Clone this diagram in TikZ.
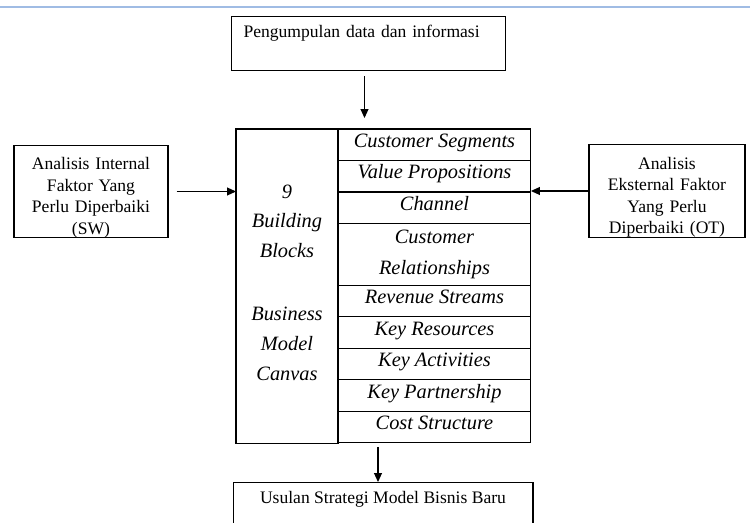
\documentclass[tikz,border=0pt]{standalone}
\usepackage{fontspec}
\setmainfont{Liberation Serif}
\usetikzlibrary{positioning,arrows.meta}
\definecolor{PageLine}{RGB}{160,188,228}

\begin{document}
\begin{tikzpicture}[x=0.02cm,y=-0.02cm,
  kotak/.style={draw,line width=0.6pt,inner sep=0pt,font=\fontsize{10}{12.2}\selectfont},
  sel/.style={kotak,outer sep=0pt,minimum width=3.86cm,minimum height=0.63cm,
    text height=0.37cm,text depth=0.26cm,font=\fontsize{11.6}{17.5}\selectfont\itshape},
  panah/.style={line width=0.6pt,-{Triangle[length=1.8mm,width=1.6mm]}}]%
  \clip (0,0) rectangle (750,523);
  \draw[PageLine,line width=0.6pt] (0,7) -- (750,7);
  \node[kotak,anchor=north west,minimum width=5.48cm,text width=5.0cm,
    inner xsep=0.24cm,align=left,text height=0.42cm,text depth=0.66cm]
    (kumpul) at (231,16) {Pengumpulan data dan informasi};
  \node[kotak,anchor=north west,outer sep=0pt,minimum width=2.04cm,
    minimum height=6.3cm,align=center,font=\fontsize{11.6}{17}\selectfont\itshape]
    (blok) at (236,129)
    {9\\Building\\Blocks\\[18.7pt]Business\\Model\\Canvas\rule[-4.6pt]{0pt}{1pt}};
  \node[sel,anchor=north west] (cs) at (338,129) {Customer Segments};
  \node[sel,below=0pt of cs] (vp) {Value Propositions};
  \node[sel,below=0pt of vp] (ch) {Channel};
  \node[sel,below=0pt of ch,minimum height=1.24cm,text height=,text depth=,
    align=center] (cr) {Customer\\Relationships};
  \node[sel,below=0pt of cr] (rs) {Revenue Streams};
  \node[sel,below=0pt of rs] (kr) {Key Resources};
  \node[sel,below=0pt of kr] (ka) {Key Activities};
  \node[sel,below=0pt of ka] (kp) {Key Partnership};
  \node[sel,below=0pt of kp] (cost) {Cost Structure};
  \node[kotak,minimum width=3.08cm,minimum height=1.78cm,text width=2.9cm,
    align=center] (sw) at (91,191.5)
    {\rule{0pt}{14pt}Analisis Internal\\Faktor Yang\\Perlu Diperbaiki\\(SW)};
  \node[kotak,minimum width=3.12cm,minimum height=1.76cm,text width=2.9cm,
    align=center] (ot) at (667,191)
    {\rule{0pt}{14pt}Analisis\\Eksternal Faktor\\Yang Perlu\\Diperbaiki (OT)};
  \node[kotak,anchor=north,minimum width=6cm,text height=0.42cm,
    text depth=0.7cm] (usulan) at (383,482) {Usulan Strategi Model Bisnis Baru};
  \draw[panah] ([xshift=-0.08cm,yshift=-0.1cm]kumpul.south)
    -- ([xshift=-0.08cm,yshift=0.22cm]kumpul.south |- cs.north);
  \draw[panah] ([xshift=0.16cm]sw.east) -- (sw.east -| blok.west);
  \draw[panah] (ot.west) -- (ot.west -| cs.east);
  \draw[panah] ([xshift=-0.1cm,yshift=-0.08cm]usulan.north |- cost.south)
    -- ([xshift=-0.1cm]usulan.north);
\end{tikzpicture}
\end{document}
